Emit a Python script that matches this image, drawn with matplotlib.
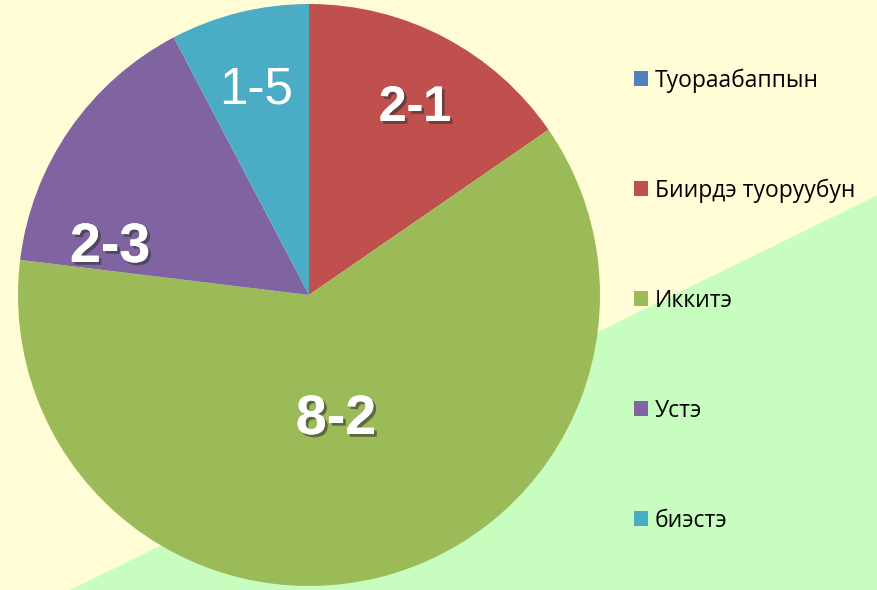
import matplotlib.pyplot as plt
import matplotlib.patheffects as pe
from matplotlib.patches import Polygon

categories = ['Туораабаппын', 'Биирдэ туоруубун', 'Иккитэ', 'Устэ', 'биэстэ']
values = [0, 2, 8, 2, 1]
slice_labels = ['', '2-1', '8-2', '2-3', '1-5']
colors = ['#4F81BD', '#C0504D', '#9BBB59', '#8064A2', '#4BACC6']

plt.rcParams['font.family'] = ['Open Sans', 'DejaVu Sans']

fig = plt.figure(figsize=(8.78, 5.9), dpi=100)
fig.patch.set_facecolor('#FFFCD6')

ax = fig.add_axes([0, 0, 1, 1])

# green diagonal band at bottom right, behind the pie
band = Polygon([(70, 0), (878, 0), (878, 590 - 195)], closed=True,
               facecolor='#C8FDC0', edgecolor='none', zorder=0)
ax.add_patch(band)

wedges, _ = ax.pie(values, colors=colors, startangle=90, counterclock=False,
                   center=(309, 295), radius=291, frame=True,
                   wedgeprops=dict(zorder=2))
ax.set_xlim(0, 878)
ax.set_ylim(0, 590)
ax.set_aspect('equal')
ax.axis('off')

shadow = [pe.withSimplePatchShadow(offset=(2, -2), shadow_rgbFace='#333333', alpha=0.6),
          pe.Normal()]
label_pos = {'2-1': (415, 590 - 108), '8-2': (336, 590 - 420),
             '2-3': (110, 590 - 248), '1-5': (256, 590 - 90)}
label_size = {'2-1': 36, '8-2': 40, '2-3': 40, '1-5': 37}
for lab in slice_labels:
    if not lab:
        continue
    x, y = label_pos[lab]
    if lab == '1-5':
        ax.text(x, y, lab, color='white', fontsize=label_size[lab], ha='center', va='center',
                family=['Liberation Sans', 'DejaVu Sans'], zorder=5)
    else:
        ax.text(x, y, lab, color='white', fontsize=label_size[lab], fontweight='bold',
                ha='center', va='center', family=['Liberation Sans', 'DejaVu Sans'],
                path_effects=shadow, zorder=5)

leg = ax.legend(wedges, categories, loc='upper left', bbox_to_anchor=(625 / 878, 1 - 59 / 590),
                frameon=False, fontsize=16.5, handlelength=0.6, handleheight=0.6,
                handletextpad=0.3, labelspacing=3.75, borderaxespad=0)

plt.savefig('out.png', dpi=100)
